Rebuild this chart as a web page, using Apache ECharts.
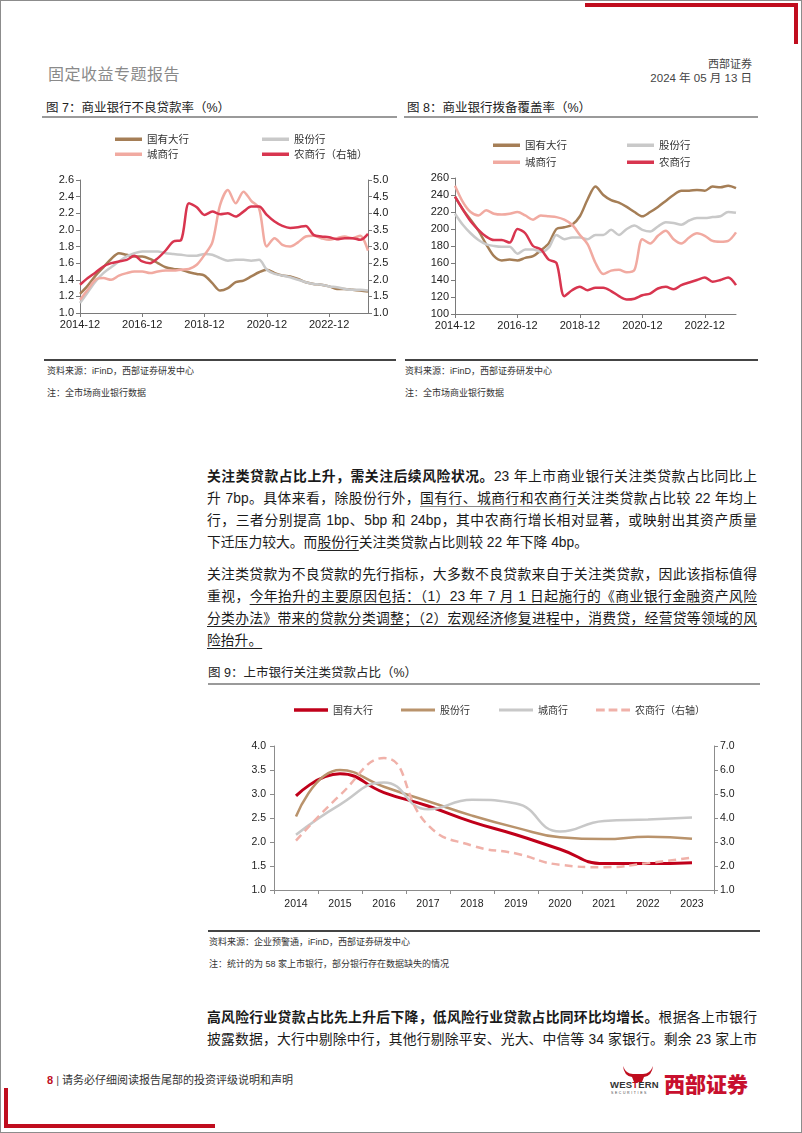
<!DOCTYPE html>
<html lang="zh">
<head>
<meta charset="utf-8">
<script src="https://cdn.jsdelivr.net/npm/echarts@6/dist/echarts.min.js"></script>
<style>
html,body{margin:0;padding:0;background:#fff;}
body{width:802px;height:1133px;position:relative;overflow:hidden;font-family:"Liberation Sans","Noto Sans CJK SC",sans-serif;color:#1a1a1a;}
.frame{position:absolute;left:0;top:0;width:802px;height:1133px;box-sizing:border-box;border:1px solid #8c8c8c;}
.bar{position:absolute;background:#c00d1e;}
.t{position:absolute;white-space:nowrap;}
.ln{position:absolute;left:207px;width:550px;height:22px;line-height:22px;font-size:13.8px;text-align:justify;text-align-last:justify;color:#1a1a1a;}
.ln.last{text-align-last:left;}
.b{font-weight:700;}
.u{text-decoration:underline;text-decoration-color:#222;text-underline-offset:3px;}
.ug{text-decoration:underline;text-decoration-color:#8a8a8a;text-underline-offset:3px;}
.rule{position:absolute;height:2px;background:#9a9a9a;}
.rule1{position:absolute;height:1.5px;background:#444;}
.cap{position:absolute;font-size:12.5px;color:#222;white-space:nowrap;line-height:16px;}
.src{position:absolute;font-size:9px;color:#333;white-space:nowrap;line-height:12px;}
.chart{position:absolute;}
</style>
</head>
<body>
<div class="frame"></div>
<!-- decorative red bars -->
<div class="bar" style="left:585px;top:3px;width:213px;height:4px;"></div>
<div class="bar" style="left:794px;top:3px;width:4px;height:41px;"></div>
<div class="bar" style="left:4px;top:1088px;width:4px;height:40px;"></div>
<div class="bar" style="left:4px;top:1124px;width:211px;height:4px;"></div>

<!-- header -->
<div class="t" style="left:48px;top:61px;font-size:16px;color:#8a8a8a;letter-spacing:0.5px;">固定收益专题报告</div>
<div class="t" style="right:50px;top:55px;font-size:11px;color:#444;">西部证券</div>
<div class="t" style="right:50px;top:69px;font-size:11.5px;color:#444;">2024 年 05 月 13 日</div>

<!-- figure 7 & 8 captions -->
<div class="cap" style="left:46px;top:100px;">图 7：商业银行不良贷款率（%）</div>
<div class="cap" style="left:407px;top:100px;">图 8：商业银行拨备覆盖率（%）</div>
<div class="rule" style="left:42px;top:116px;width:355px;"></div>
<div class="rule" style="left:404px;top:116px;width:354px;"></div>

<div id="c1" class="chart" style="left:40px;top:120px;width:360px;height:215px;"></div>
<div id="c2" class="chart" style="left:400px;top:120px;width:370px;height:215px;"></div>

<div class="rule1" style="left:44px;top:359px;width:352px;"></div>
<div class="rule1" style="left:405px;top:359px;width:353px;"></div>
<div class="src" style="left:47px;top:365px;">资料来源：iFinD，西部证券研发中心</div>
<div class="src" style="left:47px;top:387px;">注：全市场商业银行数据</div>
<div class="src" style="left:405px;top:365px;">资料来源：iFinD，西部证券研发中心</div>
<div class="src" style="left:405px;top:387px;">注：全市场商业银行数据</div>

<!-- paragraph 1 -->
<div class="ln" style="top:466px;"><span class="b">关注类贷款占比上升，需关注后续风险状况。</span>23 年上市商业银行关注类贷款占比同比上</div>
<div class="ln" style="top:488px;">升 7bp。具体来看，除股份行外，<span class="ug">国有行、城商行和农商行</span>关注类贷款占比较 22 年均上</div>
<div class="ln" style="top:510px;">行，三者分别提高 1bp、5bp 和 24bp，其中农商行增长相对显著，或映射出其资产质量</div>
<div class="ln last" style="top:532px;">下迁压力较大。而<span class="u">股份行</span>关注类贷款占比则较 22 年下降 4bp。</div>

<!-- paragraph 2 -->
<div class="ln" style="top:564px;">关注类贷款为不良贷款的先行指标，大多数不良贷款来自于关注类贷款，因此该指标值得</div>
<div class="ln" style="top:586px;">重视，<span class="u">今年抬升的主要原因包括：（1）23 年 7 月 1 日起施行的《商业银行金融资产风险</span></div>
<div class="ln" style="top:608px;"><span class="u">分类办法》带来的贷款分类调整；（2）宏观经济修复进程中，消费贷，经营贷等领域的风</span></div>
<div class="ln last" style="top:630px;"><span class="u">险抬升。</span></div>

<!-- figure 9 -->
<div class="cap" style="left:208px;top:665px;">图 9：上市银行关注类贷款占比（%）</div>
<div class="rule" style="left:208px;top:683px;width:552px;"></div>
<div id="c3" class="chart" style="left:200px;top:690px;width:570px;height:235px;"></div>
<div class="rule1" style="left:208px;top:930px;width:552px;"></div>
<div class="src" style="left:209px;top:936px;">资料来源：企业预警通，iFinD，西部证券研发中心</div>
<div class="src" style="left:209px;top:958px;">注：统计的为 58 家上市银行，部分银行存在数据缺失的情况</div>

<!-- paragraph 3 -->
<div class="ln" style="top:1007px;"><span class="b">高风险行业贷款占比先上升后下降，低风险行业贷款占比同环比均增长。</span>根据各上市银行</div>
<div class="ln" style="top:1029px;">披露数据，大行中剔除中行，其他行剔除平安、光大、中信等 34 家银行。剩余 23 家上市</div>

<!-- footer -->
<div class="t" style="left:47px;top:1073px;font-size:11px;line-height:14px;color:#333;"><span style="color:#c00d1e;font-weight:700;">8</span> <span style="color:#555;">|</span> 请务必仔细阅读报告尾部的投资评级说明和声明</div>
<svg style="position:absolute;left:622px;top:1066px;" width="32" height="16" viewBox="0 0 32 16">
  <path d="M1,0 Q4,8 11,8 L21,8 Q28,8 31,0 Q30,10 22,11 L20,16 L12,16 L10,11 Q2,10 1,0Z" fill="#c00d1e"/>
</svg>
<div class="t" style="left:610px;top:1079px;font-size:9.5px;font-weight:700;color:#333;letter-spacing:0.2px;">WES<span style="color:#c00d1e;">T</span>ERN</div>
<div class="t" style="left:611px;top:1091px;font-size:3.5px;color:#444;letter-spacing:1.6px;">SECURITIES</div>
<div class="t" style="left:664px;top:1070px;font-size:21px;font-weight:900;color:#c8102e;font-family:'Noto Sans CJK SC';line-height:26px;">西部证券</div>

<script>
// ---------- data ----------
const quarterLabels = ['2014-12','2015-03','2015-06','2015-09','2015-12','2016-03','2016-06','2016-09','2016-12','2017-03','2017-06','2017-09','2017-12','2018-03','2018-06','2018-09','2018-12','2019-03','2019-06','2019-09','2019-12','2020-03','2020-06','2020-09','2020-12','2021-03','2021-06','2021-09','2021-12','2022-03','2022-06','2022-09','2022-12','2023-03','2023-06','2023-09','2023-12','2024-03'];

// Fig 7: NPL ratio (%)
const nplState = [1.23,1.33,1.45,1.55,1.65,1.72,1.70,1.68,1.68,1.65,1.60,1.55,1.53,1.52,1.49,1.47,1.45,1.36,1.27,1.30,1.37,1.39,1.44,1.49,1.52,1.48,1.45,1.44,1.41,1.37,1.35,1.34,1.32,1.29,1.29,1.28,1.27,1.26];
const nplJoint = [1.12,1.25,1.38,1.48,1.55,1.62,1.68,1.72,1.74,1.74,1.74,1.72,1.71,1.70,1.69,1.69,1.71,1.70,1.66,1.63,1.64,1.64,1.63,1.64,1.52,1.47,1.45,1.43,1.40,1.37,1.35,1.34,1.32,1.31,1.29,1.28,1.28,1.27];
const nplCity = [1.16,1.28,1.40,1.42,1.40,1.45,1.48,1.50,1.50,1.48,1.50,1.51,1.51,1.52,1.53,1.58,1.70,1.85,2.30,2.48,2.32,2.46,2.35,2.26,1.80,1.90,1.82,1.80,1.85,1.92,1.93,1.90,1.88,1.90,1.92,1.90,1.93,1.75];
const nplRural = [1.85,2.05,2.22,2.40,2.50,2.55,2.60,2.72,2.55,2.50,2.65,2.88,3.15,3.20,4.30,4.18,3.95,4.05,3.97,4.00,3.90,4.05,4.20,4.20,3.95,3.75,3.62,3.56,3.58,3.62,3.35,3.30,3.28,3.22,3.25,3.25,3.20,3.38];

// Fig 8: provision coverage ratio (%)
const covLabels = quarterLabels.slice(0, 37);
const covState = [238,223,211,198,182,168,163,164,163,166,168,175,183,200,202,205,215,235,250,240,234,231,226,220,215,220,226,233,240,245,245,246,245,250,249,251,248];
const covJoint = [218,205,195,187,182,180,179,179,171,176,176,173,178,193,188,190,190,188,193,193,199,193,200,204,199,197,203,208,207,205,210,213,213,214,215,220,219];
const covCity = [251,232,220,216,222,218,217,218,220,216,211,216,215,214,211,205,193,182,160,147,151,152,149,152,188,183,192,198,188,183,190,195,192,186,185,186,196];
const covRural = [238,223,209,199,191,187,187,184,200,195,180,176,164,160,121,128,132,128,131,131,127,121,117,118,122,124,130,132,129,134,137,140,143,138,140,143,134];

// Fig 9: special-mention loan ratio (%)
const years = ['2014','2015','2016','2017','2018','2019','2020','2021','2022','2023'];
const smState = [2.96,3.42,3.03,2.75,2.42,2.15,1.85,1.55,1.55,1.57];
const smJoint = [2.53,3.50,3.15,2.85,2.55,2.30,2.10,2.06,2.11,2.07];
const smCity = [2.15,2.78,3.24,2.68,2.88,2.80,2.22,2.44,2.47,2.51];
const smRural = [3.06,4.95,6.50,3.70,2.85,2.52,2.05,1.95,2.12,2.35];

const names4 = ['国有大行','股份行','城商行','农商行（右轴）'];
const names4b = ['国有大行','股份行','城商行','农商行'];

// ---------- styles ----------
const FONT = 'Liberation Sans, Noto Sans CJK SC, sans-serif';
const c12 = ['#a57e56','#c9c9c9','#f1aaa1','#d8354f'];
const c3 = ['#c0001a','#b9936c','#c8c8c8','#f0b1a9'];
const DASH_ICON = 'path://M0,0h9v3h-9zM13,0h9v3h-9zM26,0h9v3h-9z';

function axisCommon(color){
  return {
    axisLine:{show:true,lineStyle:{color:color,width:1}},
    axisTick:{show:true,length:4,lineStyle:{color:color}},
    splitLine:{show:false},
    axisLabel:{color:'#222',fontSize:11,fontFamily:FONT}
  };
}
function legendItem(name,left,top,w,h,icon,fs){
  return {data:[name],left:left,top:top,itemWidth:w,itemHeight:h||3.5,itemGap:0,icon:icon||'rect',
    textStyle:{fontSize:fs||10.5,color:'#333',fontFamily:'Noto Sans CJK SC'}};
}
function lineSeries(name,data,color,width,yIdx,extra){
  return Object.assign({type:'line',name:name,data:data,yAxisIndex:yIdx||0,symbol:'none',smooth:0.3,
    lineStyle:{color:color,width:width},itemStyle:{color:color}},extra||{});
}

// ---------- chart 1 ----------
const ch1 = echarts.init(document.getElementById('c1'),null,{renderer:'canvas'});
ch1.setOption({
  animation:false,
  textStyle:{fontFamily:FONT},
  legend:[legendItem(names4[0],70,9,27),legendItem(names4[1],217,9,27),legendItem(names4[2],70,24,27),legendItem(names4[3],217,24,27)],
  grid:{left:40,right:32,top:60,bottom:22},
  xAxis:Object.assign(axisCommon('#7a7a7a'),{type:'category',data:quarterLabels,boundaryGap:false,
    axisLabel:{color:'#222',fontSize:11,fontFamily:FONT,interval:7,margin:6},
    axisTick:{show:true,interval:7,length:4,lineStyle:{color:'#7a7a7a'}}}),
  yAxis:[
    Object.assign(axisCommon('#7a7a7a'),{type:'value',min:1,max:2.6,interval:0.2,
      axisLabel:{color:'#222',fontSize:11,fontFamily:FONT,margin:6,formatter:v=>v.toFixed(1)}}),
    Object.assign(axisCommon('#7a7a7a'),{type:'value',min:1,max:5,interval:0.5,position:'right',
      axisLabel:{color:'#222',fontSize:11,fontFamily:FONT,margin:5,formatter:v=>v.toFixed(1)}})
  ],
  series:[
    lineSeries(names4[0],nplState,c12[0],2.5,0),
    lineSeries(names4[1],nplJoint,c12[1],2.5,0),
    lineSeries(names4[2],nplCity,c12[2],2.5,0),
    lineSeries(names4[3],nplRural,c12[3],2.5,1)
  ]
});

// ---------- chart 2 ----------
const ch2 = echarts.init(document.getElementById('c2'),null,{renderer:'canvas'});
ch2.setOption({
  animation:false,
  textStyle:{fontFamily:FONT},
  legend:[legendItem(names4b[0],88,15,27),legendItem(names4b[1],222,15,27),legendItem(names4b[2],88,32,27),legendItem(names4b[3],222,32,27)],
  grid:{left:55,right:34,top:58,bottom:21},
  xAxis:Object.assign(axisCommon('#7a7a7a'),{type:'category',data:covLabels,boundaryGap:false,
    axisLabel:{color:'#222',fontSize:11,fontFamily:FONT,interval:7,margin:6},
    axisTick:{show:true,interval:7,length:4,lineStyle:{color:'#7a7a7a'}}}),
  yAxis:Object.assign(axisCommon('#7a7a7a'),{type:'value',min:100,max:260,interval:20,
    axisLabel:{color:'#222',fontSize:11,fontFamily:FONT,margin:6}}),
  series:[
    lineSeries(names4b[0],covState,c12[0],2.5),
    lineSeries(names4b[1],covJoint,c12[1],2.5),
    lineSeries(names4b[2],covCity,c12[2],2.5),
    lineSeries(names4b[3],covRural,c12[3],2.5)
  ]
});

// ---------- chart 3 ----------
const ch3 = echarts.init(document.getElementById('c3'),null,{renderer:'canvas'});
ch3.setOption({
  animation:false,
  textStyle:{fontFamily:FONT},
  legend:[legendItem(names4[0],89,10,34,3.5,'rect',10),legendItem(names4[1],196,10,34,3,'rect',10),
          legendItem(names4[2],294,10,34,3,'rect',10),legendItem(names4[3],391,10,34,3,DASH_ICON,10)],
  grid:{left:74,right:56,top:56,bottom:35},
  xAxis:Object.assign(axisCommon('#8c8c8c'),{type:'category',data:years,boundaryGap:true,
    axisLabel:{color:'#222',fontSize:10.5,fontFamily:FONT,margin:9}}),
  yAxis:[
    Object.assign(axisCommon('#8c8c8c'),{type:'value',min:1,max:4,interval:0.5,
      axisLabel:{color:'#222',fontSize:10.5,fontFamily:FONT,margin:8,formatter:v=>v.toFixed(1)}}),
    Object.assign(axisCommon('#8c8c8c'),{type:'value',min:1,max:7,interval:1,position:'right',
      axisLabel:{color:'#222',fontSize:10.5,fontFamily:FONT,margin:6,formatter:v=>v.toFixed(1)}})
  ],
  series:[
    lineSeries(names4[0],smState,c3[0],3,0,{smooth:true}),
    lineSeries(names4[1],smJoint,c3[1],2.5,0,{smooth:true}),
    lineSeries(names4[2],smCity,c3[2],2.5,0,{smooth:true}),
    Object.assign(lineSeries(names4[3],smRural,c3[3],2.5,1,{smooth:true}),
      {lineStyle:{color:c3[3],width:2.5,type:[8,5]}})
  ]
});
</script>
</body>
</html>
